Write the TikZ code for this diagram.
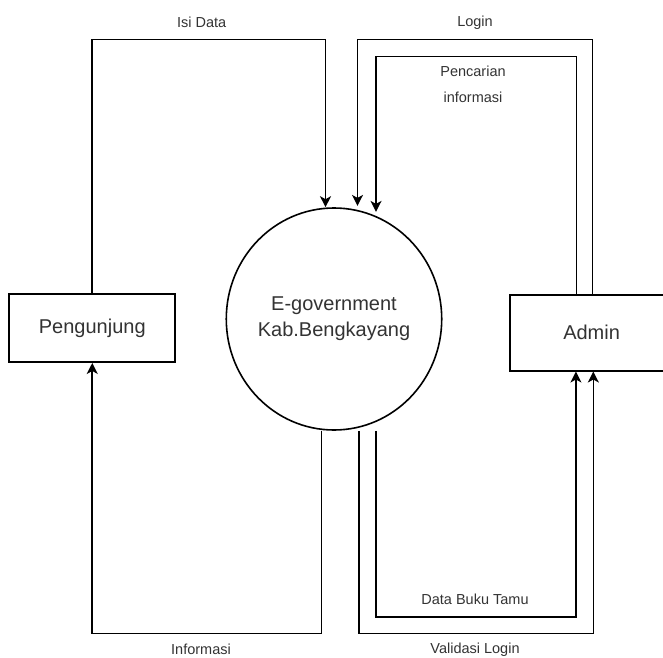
\documentclass[tikz,border=0pt]{standalone}
\usepackage{fontspec}
\setmainfont{Liberation Sans}
\usepackage{tikz}
\usetikzlibrary{positioning, shapes.geometric, arrows.meta}
\tikzstyle{entity} = [rectangle, draw=black, line width=1.6pt, text=black!80, font=\fontsize{20}{26}\selectfont, text centered]
\tikzstyle{process} = [ellipse, draw=black, line width=1.6pt, minimum width=215pt, minimum height=222pt, inner sep=0pt, text=black!80, font=\fontsize{20}{26}\selectfont, align=center]
\tikzstyle{flow} = [text=black!80, font=\fontsize{14.5}{26}\selectfont, align=center]
\tikzstyle{arrow} = [line width=1.6pt, -{Stealth[length=11pt, width=11pt, inset=3pt]}]

\begin{document}
\begin{tikzpicture}[x=1pt, y=1pt]
\useasboundingbox (0,0) rectangle (663,657);
\clip (0,0) rectangle (663,657);
\node (proc) [process] at (334,338) {E-government\\Kab.Bengkayang};
\node (visitor) [entity, minimum width=166pt, minimum height=68.3pt, left=49.4pt of proc, yshift=-9pt] {Pengunjung};
\node (admin) [entity, minimum width=163.4pt, minimum height=76pt, right=66.6pt of proc, yshift=-13.7pt] {Admin};
\coordinate (top_outer) at (0,617.5);
\coordinate (top_inner) at (0,600.3);
\coordinate (bot_outer) at (0,23.7);
\coordinate (bot_inner) at (0,40.3);
\coordinate (isi_in) at ([xshift=-8.5pt]proc.north);
\coordinate (login_in) at ([xshift=23.5pt, yshift=1.3pt]proc.north);
\coordinate (cari_in) at ([xshift=42pt, yshift=-4.7pt]proc.north);
\coordinate (info_out) at ([xshift=-12.5pt]proc.south);
\coordinate (valid_out) at ([xshift=25pt]proc.south);
\coordinate (tamu_out) at ([xshift=42pt]proc.south);
\coordinate (login_out) at ([xshift=1pt]admin.north);
\coordinate (cari_out) at ([xshift=-15pt]admin.north);
\coordinate (valid_in) at ([xshift=1.7pt]admin.south);
\coordinate (tamu_in) at ([xshift=-15.7pt]admin.south);
\draw [arrow] (visitor.north) |- (top_outer -| isi_in) -- (isi_in);
\draw [arrow] (login_out) |- (top_outer -| login_in) -- (login_in);
\draw [arrow] (cari_out) |- (top_inner -| cari_in) -- (cari_in);
\draw [arrow] (info_out) |- (bot_outer -| visitor.south) -- (visitor.south);
\draw [arrow] (valid_out) |- (bot_outer -| valid_in) -- (valid_in);
\draw [arrow] (tamu_out) |- (bot_inner -| tamu_in) -- (tamu_in);
\node (isi_lbl) [flow] at (201.7,635) {Isi Data};
\node (login_lbl) [flow] at (475,634) {Login};
\node (cari_lbl) [flow] at (473,573) {Pencarian\\informasi};
\node (tamu_lbl) [flow] at (475,58) {Data Buku Tamu};
\node (valid_lbl) [flow] at (475,7) {Validasi Login};
\node (info_lbl) [flow] at (201,8) {Informasi};
\end{tikzpicture}
\end{document}
